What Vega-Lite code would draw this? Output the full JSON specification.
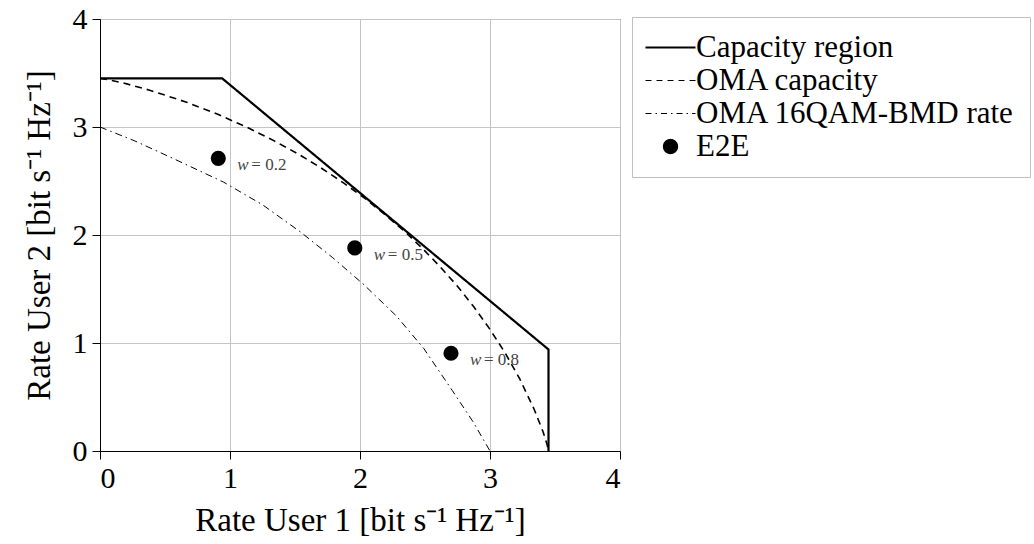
{
  "$schema": "https://vega.github.io/schema/vega-lite/v6.json",
  "width": 520,
  "height": 432,
  "autosize": {"type": "none"},
  "padding": {"left": 100, "top": 19, "right": 414, "bottom": 93},
  "background": "white",
  "config": {
    "font": "Liberation Serif",
    "view": {"stroke": "black", "strokeWidth": 1},
    "axis": {
      "labelFont": "Liberation Serif",
      "titleFont": "Liberation Serif",
      "labelFontSize": 30,
      "titleFontSize": 33,
      "titleFontWeight": "normal",
      "labelColor": "black",
      "titleColor": "black",
      "domainColor": "black",
      "tickColor": "black",
      "tickSize": 8,
      "gridColor": "#c4c4c4",
      "gridWidth": 1,
      "grid": true
    },
    "legend": {
      "labelFont": "Liberation Serif",
      "labelFontSize": 31,
      "labelColor": "black",
      "labelLimit": 500
    }
  },
  "datasets": {
    "curves": [
      {"series": "Capacity region", "i": 0, "x": 0, "y": 3.45},
      {"series": "Capacity region", "i": 1, "x": 0.94, "y": 3.45},
      {"series": "Capacity region", "i": 2, "x": 3.45, "y": 0.94},
      {"series": "Capacity region", "i": 3, "x": 3.45, "y": 0},
      {"series": "OMA capacity", "i": 0, "x": 0, "y": 3.45},
      {"series": "OMA capacity", "i": 1, "x": 0.055, "y": 3.44},
      {"series": "OMA capacity", "i": 2, "x": 0.179, "y": 3.408},
      {"series": "OMA capacity", "i": 3, "x": 0.382, "y": 3.341},
      {"series": "OMA capacity", "i": 4, "x": 0.665, "y": 3.23},
      {"series": "OMA capacity", "i": 5, "x": 0.911, "y": 3.115},
      {"series": "OMA capacity", "i": 6, "x": 1.133, "y": 2.996},
      {"series": "OMA capacity", "i": 7, "x": 1.337, "y": 2.874},
      {"series": "OMA capacity", "i": 8, "x": 1.528, "y": 2.748},
      {"series": "OMA capacity", "i": 9, "x": 1.707, "y": 2.616},
      {"series": "OMA capacity", "i": 10, "x": 1.876, "y": 2.48},
      {"series": "OMA capacity", "i": 11, "x": 2.038, "y": 2.339},
      {"series": "OMA capacity", "i": 12, "x": 2.19, "y": 2.19},
      {"series": "OMA capacity", "i": 13, "x": 2.339, "y": 2.038},
      {"series": "OMA capacity", "i": 14, "x": 2.48, "y": 1.876},
      {"series": "OMA capacity", "i": 15, "x": 2.616, "y": 1.707},
      {"series": "OMA capacity", "i": 16, "x": 2.748, "y": 1.528},
      {"series": "OMA capacity", "i": 17, "x": 2.874, "y": 1.337},
      {"series": "OMA capacity", "i": 18, "x": 2.996, "y": 1.133},
      {"series": "OMA capacity", "i": 19, "x": 3.115, "y": 0.911},
      {"series": "OMA capacity", "i": 20, "x": 3.23, "y": 0.665},
      {"series": "OMA capacity", "i": 21, "x": 3.341, "y": 0.382},
      {"series": "OMA capacity", "i": 22, "x": 3.408, "y": 0.179},
      {"series": "OMA capacity", "i": 23, "x": 3.44, "y": 0.055},
      {"series": "OMA capacity", "i": 24, "x": 3.45, "y": 0},
      {"series": "OMA 16QAM-BMD rate", "i": 0, "x": 0, "y": 3.0},
      {"series": "OMA 16QAM-BMD rate", "i": 1, "x": 0.27, "y": 2.87},
      {"series": "OMA 16QAM-BMD rate", "i": 2, "x": 0.56, "y": 2.71},
      {"series": "OMA 16QAM-BMD rate", "i": 3, "x": 0.95, "y": 2.49},
      {"series": "OMA 16QAM-BMD rate", "i": 4, "x": 1.25, "y": 2.28},
      {"series": "OMA 16QAM-BMD rate", "i": 5, "x": 1.54, "y": 2.03},
      {"series": "OMA 16QAM-BMD rate", "i": 6, "x": 1.79, "y": 1.79},
      {"series": "OMA 16QAM-BMD rate", "i": 7, "x": 2.03, "y": 1.54},
      {"series": "OMA 16QAM-BMD rate", "i": 8, "x": 2.28, "y": 1.25},
      {"series": "OMA 16QAM-BMD rate", "i": 9, "x": 2.49, "y": 0.95},
      {"series": "OMA 16QAM-BMD rate", "i": 10, "x": 2.71, "y": 0.56},
      {"series": "OMA 16QAM-BMD rate", "i": 11, "x": 2.87, "y": 0.27},
      {"series": "OMA 16QAM-BMD rate", "i": 12, "x": 3.0, "y": 0}
    ],
    "e2e": [
      {"series": "E2E", "x": 0.91, "y": 2.71, "label": "= 0.2"},
      {"series": "E2E", "x": 1.96, "y": 1.88, "label": "= 0.5"},
      {"series": "E2E", "x": 2.7, "y": 0.905, "label": "= 0.8"}
    ]
  },
  "layer": [
    {
      "data": {"name": "curves"},
      "mark": {"type": "line", "clip": true},
      "encoding": {
        "x": {
          "field": "x", "type": "quantitative",
          "scale": {"domain": [0, 4], "nice": false, "zero": false},
          "axis": {"values": [0, 1, 2, 3, 4], "format": "d", "title": "Rate User 1 [bit s⁻¹ Hz⁻¹]", "labelPadding": 4, "titlePadding": 11}
        },
        "y": {
          "field": "y", "type": "quantitative",
          "scale": {"domain": [0, 4], "nice": false, "zero": false},
          "axis": {"values": [0, 1, 2, 3, 4], "format": "d", "title": "Rate User 2 [bit s⁻¹ Hz⁻¹]", "labelPadding": 5, "titlePadding": 16}
        },
        "color": {
          "field": "series", "type": "nominal",
          "scale": {"domain": ["Capacity region", "OMA capacity", "OMA 16QAM-BMD rate", "E2E"], "range": ["black", "black", "black", "black"]},
          "legend": {
            "title": null,
            "orient": "none",
            "legendX": 532,
            "legendY": -2,
            "padding": 15,
            "fillColor": "white",
            "strokeColor": "#c0c0c0",
            "symbolSize": 2500,
            "symbolOffset": 8,
            "labelOffset": 10,
            "rowPadding": 1,
            "encode": {
              "symbols": {
                "update": {
                  "shape": {"signal": "datum.value === 'E2E' ? 'circle' : 'stroke'"},
                  "size": {"signal": "datum.value === 'E2E' ? 190 : 2500"},
                  "strokeDash": {"signal": "datum.value === 'OMA capacity' ? [6, 5] : datum.value === 'OMA 16QAM-BMD rate' ? [6, 4, 1.5, 4] : [1, 0]"},
                  "strokeWidth": {"signal": "datum.value === 'Capacity region' ? 2.2 : datum.value === 'E2E' ? 1.5 : 1"},
                  "fill": {"signal": "datum.value === 'E2E' ? '#444' : 'transparent'"},
                  "stroke": {"value": "black"},
                  "opacity": {"value": 1}
                }
              }
            }
          }
        },
        "strokeDash": {
          "field": "series", "type": "nominal",
          "scale": {"domain": ["Capacity region", "OMA capacity", "OMA 16QAM-BMD rate"], "range": [[1, 0], [7, 5], [7, 4, 1.5, 4]]},
          "legend": null
        },
        "strokeWidth": {
          "field": "series", "type": "nominal",
          "scale": {"domain": ["Capacity region", "OMA capacity", "OMA 16QAM-BMD rate"], "range": [2.2, 1, 1]},
          "legend": null
        },
        "order": {"field": "i", "type": "quantitative"}
      }
    },
    {
      "data": {"name": "e2e"},
      "mark": {"type": "circle", "size": 230, "opacity": 1},
      "encoding": {
        "x": {"field": "x", "type": "quantitative"},
        "y": {"field": "y", "type": "quantitative"},
        "color": {
          "field": "series", "type": "nominal",
          "scale": {"domain": ["Capacity region", "OMA capacity", "OMA 16QAM-BMD rate", "E2E"], "range": ["black", "black", "black", "black"]}
        }
      }
    },
    {
      "data": {"name": "e2e"},
      "mark": {"type": "text", "text": "w", "fontStyle": "italic", "font": "Liberation Serif", "fontSize": 17, "align": "left", "baseline": "middle", "dx": 19, "dy": 7, "color": "#444"},
      "encoding": {
        "x": {"field": "x", "type": "quantitative"},
        "y": {"field": "y", "type": "quantitative"}
      }
    },
    {
      "data": {"name": "e2e"},
      "mark": {"type": "text", "font": "Liberation Serif", "fontSize": 17, "align": "left", "baseline": "middle", "dx": 33, "dy": 7, "color": "#444"},
      "encoding": {
        "x": {"field": "x", "type": "quantitative"},
        "y": {"field": "y", "type": "quantitative"},
        "text": {"field": "label"}
      }
    }
  ]
}
